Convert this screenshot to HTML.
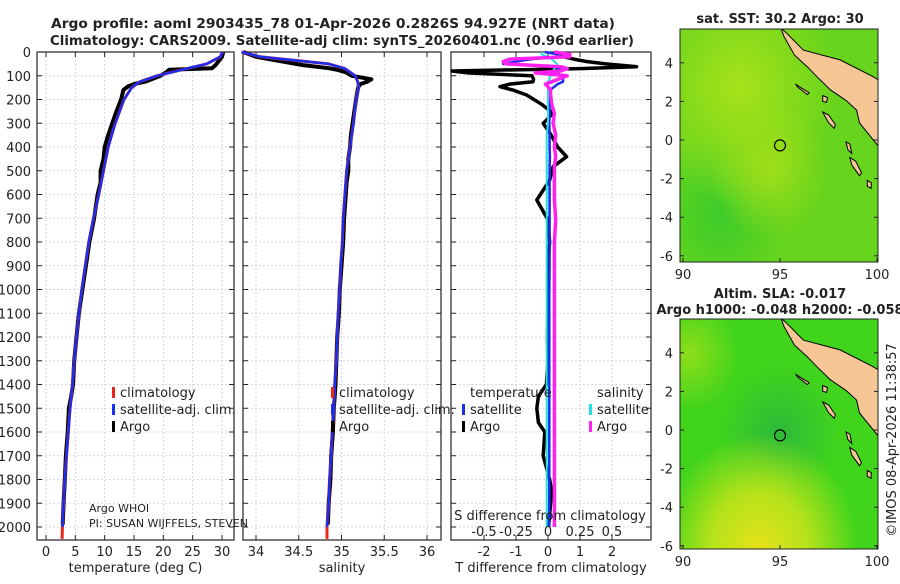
<!DOCTYPE html>
<html><head><meta charset="utf-8">
<style>
body{margin:0;background:#fff;width:900px;height:580px;overflow:hidden;font-family:"DejaVu Sans","Liberation Sans",sans-serif;}
svg text{font-family:"DejaVu Sans","Liberation Sans",sans-serif;fill:#222}
</style></head>
<body>
<svg id="fig" width="900" height="580" viewBox="0 0 900 580" xmlns="http://www.w3.org/2000/svg">
<defs>
<radialGradient id="sstA" cx="0.3" cy="0.25" r="0.5"><stop offset="0" stop-color="#a8e21a"/><stop offset="1" stop-color="#a8e21a" stop-opacity="0"/></radialGradient>
<radialGradient id="sstB" cx="0.45" cy="0.6" r="0.3"><stop offset="0" stop-color="#9ede1a"/><stop offset="1" stop-color="#9ede1a" stop-opacity="0"/></radialGradient>
<radialGradient id="sstC" cx="0.2" cy="0.8" r="0.35"><stop offset="0" stop-color="#3ccc2a"/><stop offset="1" stop-color="#3ccc2a" stop-opacity="0"/></radialGradient>
<radialGradient id="slaA" cx="0.4" cy="1.0" r="0.5"><stop offset="0" stop-color="#e6e21a"/><stop offset="0.5" stop-color="#b4e21a"/><stop offset="1" stop-color="#b4e21a" stop-opacity="0"/></radialGradient>
<radialGradient id="slaB" cx="0.05" cy="0.15" r="0.25"><stop offset="0" stop-color="#8ede1a"/><stop offset="1" stop-color="#8ede1a" stop-opacity="0"/></radialGradient>
<radialGradient id="slaC" cx="0.5" cy="0.5" r="0.3"><stop offset="0" stop-color="#2cba3a"/><stop offset="1" stop-color="#2cba3a" stop-opacity="0"/></radialGradient>
</defs>
<g id="root"></g>
</svg>
<script>
// ---------- data ----------
const depthTicks=[0,100,200,300,400,500,600,700,800,900,1000,1100,1200,1300,1400,1500,1600,1700,1800,1900,2000];
const tempTicks=[0,5,10,15,20,25,30];
const salTicks=[34,34.5,35,35.5,36];
const tdiffTicks=[-2,-1,0,1,2];
const sdiffTicks=[-0.5,-0.25,0,0.25,0.5];
const sdiffTickLabels=["-0.5","-0.25","0","0.25","0.5"];

const climDepth=[0,20,50,70,100,125,150,200,300,400,500,600,700,800,900,1000,1100,1200,1300,1400,1500,1600,1700,1800,1900,2000];
const climTemp=[30.1,29.7,27.4,24,18.9,16,14.6,13.3,11.8,10.6,9.8,9.0,8.1,7.3,6.7,6.1,5.6,5.2,4.8,4.5,4.1,3.8,3.5,3.2,3.0,2.8];
const climSal=[33.83,34.05,34.85,35.04,35.16,35.19,35.2,35.17,35.14,35.1,35.06,35.04,35.02,35.01,34.99,34.98,34.96,34.95,34.94,34.92,34.91,34.89,34.88,34.86,34.85,34.83];
const climDeepDepth=[2000,2050];
const climDeepTemp=[2.8,2.75];
const climDeepSal=[34.83,34.83];

const argoDepth=[0,20,55,68,75,85,100,115,125,135,145,160,200,250,300,350,400,450,500,550,600,700,800,900,1000,1100,1200,1300,1400,1450,1500,1600,1700,1800,1900,1990];
const argoTemp=[30.2,30.0,28.9,28.3,21.0,20.5,19.5,18.0,16.9,15.0,14.0,13.2,12.8,12.0,11.3,10.6,10.0,9.8,9.3,9.3,8.8,8.2,7.4,6.8,6.2,5.6,5.2,4.8,4.6,4.3,3.9,3.7,3.4,3.2,3.0,2.85];
const argoSal=[33.85,34.0,34.55,34.85,34.95,35.05,35.12,35.35,35.3,35.22,35.2,35.19,35.17,35.15,35.13,35.11,35.1,35.08,35.08,35.06,35.05,35.03,35.02,35.0,34.98,34.97,34.95,34.94,34.93,34.92,34.91,34.9,34.88,34.87,34.85,34.84];

const diffDepth=[0,10,20,30,40,50,62,70,80,88,100,115,125,135,146,160,181,220,258,300,350,400,441,483,540,623,707,800,900,1000,1100,1200,1300,1400,1450,1500,1560,1600,1700,1800,1850,1900,2000];
const tdiffArgo=[0.25,0.3,0.5,0.8,1.2,1.8,2.77,1.0,-3.0,-2.5,-0.5,-0.45,-0.47,-1.2,-1.5,-1.1,-0.67,-0.2,0.16,-0.15,0.1,0.3,0.58,0.16,0.05,-0.35,0.0,0.05,0.0,0.02,0.0,-0.02,0.0,-0.05,-0.3,-0.35,-0.3,-0.1,-0.15,0.05,0.12,0.08,0.02];
const tdiffSat=[-0.1,0.3,0.4,-0.5,-1.0,-1.4,0.3,0.47,0.2,0.3,0.4,0.47,0.47,0.3,0.2,0.06,0.06,0.05,0.05,0.04,0.05,0.05,0.06,0.05,0.05,0.05,0.05,0.05,0.05,0.04,0.04,0.04,0.04,0.04,0.04,0.04,0.04,0.04,0.04,0.04,0.04,0.04,0.04];
const sdiffArgo=[0.05,0.17,0.17,-0.3,-0.35,-0.33,0.1,0.15,0.1,-0.1,0.15,0.08,0.03,-0.02,0.0,0.02,0.02,0.03,0.05,0.04,0.06,0.05,0.06,0.05,0.05,0.05,0.06,0.05,0.05,0.05,0.05,0.05,0.05,0.05,0.05,0.05,0.05,0.05,0.05,0.05,0.05,0.05,0.05];
const sdiffSat=[-0.05,-0.05,0.0,0.03,0.05,0.07,0.07,0.05,0.04,0.03,0.02,0.01,0.0,0.0,0.0,0.0,0.0,0.0,0.0,0.0,-0.01,-0.01,-0.01,-0.01,-0.01,-0.01,-0.01,-0.01,-0.01,-0.01,-0.01,-0.01,-0.01,-0.01,-0.01,-0.01,-0.01,-0.01,-0.01,-0.01,-0.01,-0.01,-0.01];

const mapLonTicks=[90,95,100];
const mapLatTicks=[4,2,0,-2,-4,-6];
const sumatraLon=[95.05,95.35,96.2,98.1,99.8,100.1,100.1,99.1,98.95,98.4,97.6,96.9,96.4,95.75,95.2];
const sumatraLat=[5.8,5.53,4.66,4.15,3.28,3.1,-0.35,0.88,1.55,2.05,2.6,3.28,3.8,4.4,5.37];
const islands=[
 {lon:[95.8,96.1,96.5,96.4,95.9],lat:[2.9,2.7,2.45,2.35,2.75]},
 {lon:[97.2,97.5,97.85,97.8,97.5],lat:[1.45,1.3,0.8,0.6,0.9]},
 {lon:[98.6,98.9,99.2,99.1,98.7],lat:[-0.9,-1.1,-1.7,-1.85,-1.3]},
 {lon:[98.4,98.6,98.7,98.5],lat:[-0.1,-0.2,-0.7,-0.5]},
 {lon:[97.2,97.45,97.4,97.2],lat:[2.3,2.2,1.95,2.0]},
 {lon:[99.5,99.7,99.7,99.5],lat:[-2.1,-2.2,-2.5,-2.4]}
];
const argoLon=95.0, argoLat=-0.28;

// ---------- helpers ----------
const NS="http://www.w3.org/2000/svg";
const root=document.getElementById('root');
function el(tag,attrs,parent){const e=document.createElementNS(NS,tag);for(const k in attrs)e.setAttribute(k,attrs[k]);(parent||root).appendChild(e);return e;}
function txt(s,x,y,size,anchor,parent,weight){const t=el('text',{x:x,y:y,'font-size':size,'text-anchor':anchor||'start'},parent);if(weight)t.setAttribute('font-weight',weight);t.textContent=s;return t;}

const Y0=52,Y1=540;
const yD=d=>Y0+d*0.2375;
function lin(d0,d1,r0,r1){return v=>r0+(v-d0)*(r1-r0)/(d1-d0);}

const panels=[
 {name:'temperature-panel',x0:37,x1:234,sx:lin(0,30,46,222),ticks:tempTicks,labels:tempTicks.map(String),xlabel:'temperature (deg C)'},
 {name:'salinity-panel',x0:243,x1:441,sx:lin(34,36,256,427),ticks:salTicks,labels:salTicks.map(String),xlabel:'salinity'},
 {name:'difference-panel',x0:451,x1:651,sx:lin(0,2,548,612),ticks:tdiffTicks,labels:tdiffTicks.map(String),xlabel:'T difference from climatology'}
];
const sS=lin(0,0.5,548,612);

function line(xs,ys,sx,color,w,name,parent){
  let d='';for(let i=0;i<xs.length;i++){d+=(i?'L':'M')+sx(xs[i]).toFixed(1)+','+yD(ys[i]).toFixed(1);}
  const p=el('path',{d:d,fill:'none',stroke:color,'stroke-width':w,'stroke-linejoin':'round'},parent);
  
  
  return p;
}

// title
const title=el('g',{});


const t1=txt('Argo profile: aoml 2903435_78 01-Apr-2026 0.2826S 94.927E (NRT data)',51,28,13.5,'start',title,'bold');
t1.setAttribute('textLength','564');t1.setAttribute('lengthAdjust','spacingAndGlyphs');
const t2=txt('Climatology: CARS2009. Satellite-adj clim: synTS_20260401.nc (0.96d earlier)',50,45,13.5,'start',title,'bold');
t2.setAttribute('textLength','584');t2.setAttribute('lengthAdjust','spacingAndGlyphs');

// depth axis labels
const yax=el('g',{});


depthTicks.forEach(d=>{txt(String(d),31,yD(d)+5,13,'end',yax);});

panels.forEach((p,pi)=>{
  const g=el('g',{});
  
  
  depthTicks.forEach(d=>{el('line',{x1:p.x0,x2:p.x1,y1:yD(d),y2:yD(d),stroke:'#c8cde0','stroke-width':0.8,'stroke-dasharray':'2,2'},g);
    el('line',{x1:p.x0,x2:p.x0+5,y1:yD(d),y2:yD(d),stroke:'#222'},g);el('line',{x1:p.x1-5,x2:p.x1,y1:yD(d),y2:yD(d),stroke:'#222'},g);});
  p.ticks.forEach((v,i)=>{const x=p.sx(v);el('line',{x1:x,x2:x,y1:Y0,y2:Y1,stroke:'#c8cde0','stroke-width':0.8,'stroke-dasharray':'2,2'},g);
    el('line',{x1:x,x2:x,y1:Y1-5,y2:Y1,stroke:'#222'},g);el('line',{x1:x,x2:x,y1:Y0,y2:Y0+5,stroke:'#222'},g);
    txt(p.labels[i],x,556,13,'middle',g);});
  txt(p.xlabel,(p.x0+p.x1)/2,572,13,'middle',g);
  el('rect',{x:p.x0,y:Y0,width:p.x1-p.x0,height:Y1-Y0,fill:'none',stroke:'#222','stroke-width':1.2},g);
  p.g=g;
});

const P1=panels[0],P2=panels[1],P3=panels[2];
line(climDeepTemp,climDeepDepth,P1.sx,'#e8261a',3,'temp-climatology-deep',P1.g);
line(argoTemp,argoDepth,P1.sx,'#000',4,'temp-argo-line',P1.g);
line(climTemp,climDepth,P1.sx,'#e8261a',3,'temp-climatology-line',P1.g);
line(climTemp,climDepth,P1.sx,'#1a2ef0',2.5,'temp-satellite-line',P1.g);
line(climDeepSal,climDeepDepth,P2.sx,'#e8261a',3,'sal-climatology-deep',P2.g);
line(argoSal,argoDepth,P2.sx,'#000',4,'sal-argo-line',P2.g);
line(climSal,climDepth,P2.sx,'#e8261a',3,'sal-climatology-line',P2.g);
line(climSal,climDepth,P2.sx,'#1a2ef0',2.5,'sal-satellite-line',P2.g);
line(tdiffArgo,diffDepth,P3.sx,'#000',3.5,'tdiff-argo-line',P3.g);
line(tdiffSat,diffDepth,P3.sx,'#1a2ef0',2.5,'tdiff-satellite-line',P3.g);
line(sdiffSat,diffDepth,sS,'#22e0e8',2,'sdiff-satellite-line',P3.g);
line(sdiffArgo,diffDepth,sS,'#ff22ee',3.5,'sdiff-argo-line',P3.g);

function legItem(g,x,y,color,label){el('rect',{x:x,y:y-10,width:3,height:11,fill:color},g);txt(label,x+8,y,13,'start',g);}
const l1=el('g',{});
legItem(l1,112,397,'#e8261a','climatology');legItem(l1,112,414,'#1a2ef0','satellite-adj. clim.');legItem(l1,112,431,'#000','Argo');
const l2=el('g',{});
legItem(l2,331,397,'#e8261a','climatology');legItem(l2,331,414,'#1a2ef0','satellite-adj. clim.');legItem(l2,331,431,'#000','Argo');
const l3=el('g',{});
txt('temperature',470,397,13,'start',l3);txt('salinity',597,397,13,'start',l3);
legItem(l3,462,414,'#1a2ef0','satellite');legItem(l3,462,431,'#000','Argo');
legItem(l3,589,414,'#22e0e8','satellite');legItem(l3,589,431,'#ff22ee','Argo');

const info=el('g',{});
txt('Argo WHOI',89,512,11,'start',info);txt('PI: SUSAN WIJFFELS, STEVEN',89,527,11,'start',info);

const sax=el('g',{});
txt('S difference from climatology',550,520,13,'middle',sax);
sdiffTicks.forEach((v,i)=>txt(sdiffTickLabels[i],sS(v),536,13,'middle',sax));

function drawMap(name,x0,x1,y0,y1,lat0y,fills,title1,title2){
  const g=el('g',{});
  const mx=lin(90,100,683,877), my=v=>lat0y-v*19.3;
  el('rect',{x:x0,y:y0,width:x1-x0,height:y1-y0,fill:fills[0]},g);
  fills.slice(1).forEach(f=>el('rect',{x:x0,y:y0,width:x1-x0,height:y1-y0,fill:f},g));
  const clip='clip'+name;const cp=el('clipPath',{id:clip},g);el('rect',{x:x0,y:y0,width:x1-x0,height:y1-y0},cp);
  const lg=el('g',{'clip-path':'url(#'+clip+')'},g);
  let pts=sumatraLon.map((v,i)=>mx(v).toFixed(1)+','+my(sumatraLat[i]).toFixed(1)).join(' ');
  const land=el('polygon',{points:pts,fill:'#f7c695',stroke:'#000','stroke-width':1},lg);
  
  islands.forEach(is=>{const ip=el('polygon',{points:is.lon.map((v,i)=>mx(v).toFixed(1)+','+my(is.lat[i]).toFixed(1)).join(' '),fill:'#f7c695',stroke:'#000','stroke-width':1},lg);
    });
  const c=el('circle',{cx:mx(argoLon),cy:my(argoLat),r:5.5,fill:'none',stroke:'#000','stroke-width':1.2},g);
  
  el('rect',{x:x0,y:y0,width:x1-x0,height:y1-y0,fill:'none',stroke:'#222','stroke-width':1},g);
  mapLonTicks.forEach(v=>{el('line',{x1:mx(v),x2:mx(v),y1:y1,y2:y1-4,stroke:'#222'},g);txt(String(v),mx(v),y1+17,13,'middle',g);});
  mapLatTicks.forEach(v=>{el('line',{x1:x0,x2:x0+4,y1:my(v),y2:my(v),stroke:'#222'},g);el('line',{x1:x1,x2:x1-4,y1:my(v),y2:my(v),stroke:'#222'},g);txt(String(v),x0-7,my(v)+5,13,'end',g);});
  txt(title1,780,title2?y0-21:y0-6,13,'middle',g,'bold');
  if(title2)txt(title2,780,y0-5,13,'middle',g,'bold');
}
drawMap('sst-map',680,878,29,262,140,['#66d41c','url(#sstC)','url(#sstA)','url(#sstB)'],'sat. SST: 30.2 Argo: 30');
drawMap('sla-map',680,878,319,549,430,['#40d41c','url(#slaC)','url(#slaA)','url(#slaB)'],'Altim. SLA: -0.017','Argo h1000: -0.048 h2000: -0.058');

const stamp=txt('\u00a9IMOS 08-Apr-2026 11:38:57',0,0,13,'middle');
stamp.setAttribute('transform','translate(896,440) rotate(-90)');


</script>
</body></html>
